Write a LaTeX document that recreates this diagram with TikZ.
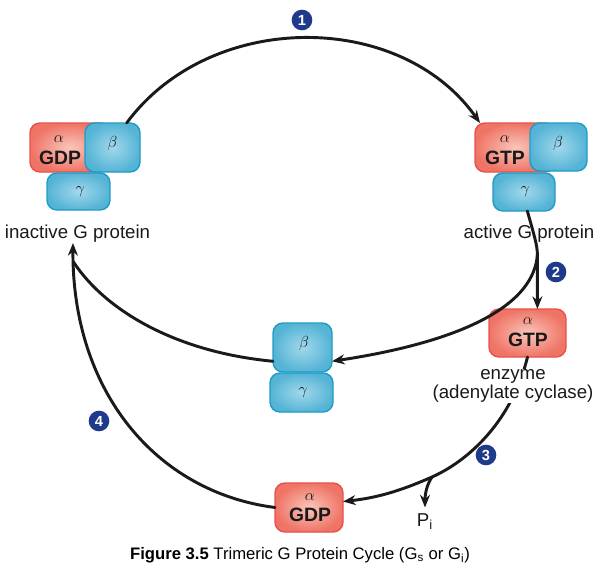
\documentclass[tikz,border=0pt]{standalone}
\usepackage{fontspec}
\setmainfont{Liberation Sans}
\usetikzlibrary{arrows.meta}
\definecolor{redb}{HTML}{E8514D}
\definecolor{redin}{HTML}{F9C6BA}
\definecolor{redout}{HTML}{EF7466}
\definecolor{blueb}{HTML}{1E9CC6}
\definecolor{bluein}{HTML}{A2D8EB}
\definecolor{blueout}{HTML}{55B4D6}
\definecolor{navy}{HTML}{1F3A8A}
\definecolor{ink}{HTML}{1A1A1A}
\tikzset{
  redbox/.style={draw=redb, line width=1.1pt, rounded corners=7.5pt, inner color=redin, outer color=redout, inner sep=0pt, outer sep=0pt},
  bluebox/.style={draw=blueb, line width=1.1pt, rounded corners=7.5pt, inner color=bluein, outer color=blueout, inner sep=0pt, outer sep=0pt},
  greek/.style={font=\fontsize{13}{13}\selectfont, text=ink, inner sep=0pt},
  nuc/.style={font=\fontsize{14.5}{14.5}\selectfont\bfseries, text=ink, inner sep=0pt},
  lab/.style={font=\fontsize{14}{13}\selectfont, text=ink, inner sep=1pt},
  conn/.style={line width=2.2pt, draw=ink, line cap=round},
  arr/.style={conn, -{Stealth[length=9.5pt,width=7.5pt]}},
  badge/.style={circle, fill=navy, text=white, font=\fontsize{11}{11}\selectfont\bfseries, minimum size=15.5pt, inner sep=0pt}
}
\begin{document}
\begin{tikzpicture}[x=0.75pt,y=-0.75pt]
\useasboundingbox (0,0) rectangle (604,575);

% inactive G protein
\node[redbox, minimum width=60pt, minimum height=36.75pt] (ia) at (70,147.5) {};
\node[bluebox, minimum width=41.25pt, minimum height=36.75pt] (ib) at (112.5,147.5) {};
\node[bluebox, minimum width=47.25pt, minimum height=27.75pt] (ig) at (78.5,191.5) {};
\node[greek] (iaa) at (59,139) {$\alpha$};
\node[nuc] (iat) at (60,158) {GDP};
\node[greek] (ibb) at (112.5,143) {$\beta$};
\node[greek] (igg) at (80,192) {$\gamma$};
\node[lab, anchor=base] (ilab) at (77.5,238) {inactive G protein};

% active G protein
\node[redbox, minimum width=60pt, minimum height=36.75pt] (aa) at (515,147.5) {};
\node[bluebox, minimum width=42.75pt, minimum height=36pt] (ab) at (558.5,147) {};
\node[bluebox, minimum width=46.5pt, minimum height=28.5pt] (ag) at (524,192) {};
\node[greek] (aaa) at (505,139) {$\alpha$};
\node[nuc] (aat) at (505,158) {GTP};
\node[greek] (abb) at (558,143) {$\beta$};
\node[greek] (agg) at (525,192) {$\gamma$};

% free beta-gamma
\node[bluebox, minimum width=44.25pt, minimum height=36.75pt] (fb) at (302.5,347.5) {};
\node[bluebox, minimum width=47.25pt, minimum height=29.25pt] (fg) at (301.5,392.5) {};
\node[greek] (fbb) at (304,343) {$\beta$};
\node[greek] (fgg) at (303,393) {$\gamma$};

% alpha-GTP on enzyme
\node[redbox, minimum width=57.75pt, minimum height=36pt] (ge) at (527.5,333) {};
\node[greek] (gea) at (528,321) {$\alpha$};
\node[nuc] (get) at (528,340) {GTP};

% alpha-GDP
\node[redbox, minimum width=51pt, minimum height=36.75pt] (gd) at (309,507.5) {};
\node[greek] (gda) at (310,497) {$\alpha$};
\node[nuc] (gdt) at (310,515) {GDP};

\node[lab, inner sep=0pt, outer sep=5pt] (pi) at (425,522) {P\textsubscript{i}};

% branch / tip coordinates
\coordinate (br2) at (537.4,255);
\coordinate (br3) at (432,477);
\coordinate (itip) at (73,243);
\coordinate (j4) at (73.5,262);

% connectors
\draw[arr] (ib.60) .. controls (210,10) and (400,10) .. (aa.145);
\draw[arr] (ag.-80) .. controls (534,235) and (537.4,245) .. (br2) -- (br2 |- ge.north);
\draw[arr] (br2) .. controls (532,320) and (420,348) .. (fb.-25);
\draw[conn] (ge.south) .. controls (512,420) and (470,460) .. (br3);
\draw[arr] (br3) .. controls (398,492) and (375,498) .. (gd.10);
\draw[arr] (br3) .. controls (427,484) and (425,494) .. (pi.north);
\draw[arr] (gd.west) .. controls (155,492) and (72,390) .. (itip);
\draw[conn] (fb.205) .. controls (175,352) and (105,310) .. (j4);

% labels over lines
\node[lab, anchor=base] (alab) at (529,238) {active G protein};
\node[lab, align=center, fill=white, inner sep=0.5pt] (enz) at (513,386) {enzyme\\(adenylate cyclase)};

% badges
\node[badge] (n1) at (302,20) {1};
\node[badge] (n2) at (556,272) {2};
\node[badge] (n3) at (486,455) {3};
\node[badge] (n4) at (99,421) {4};

% caption
\node[font=\fontsize{12.5}{14}\selectfont, text=black, inner sep=0pt] (cap) at (300,555) {\textbf{Figure 3.5} Trimeric G Protein Cycle (G\textsubscript{s} or G\textsubscript{i})};
\end{tikzpicture}
\end{document}
